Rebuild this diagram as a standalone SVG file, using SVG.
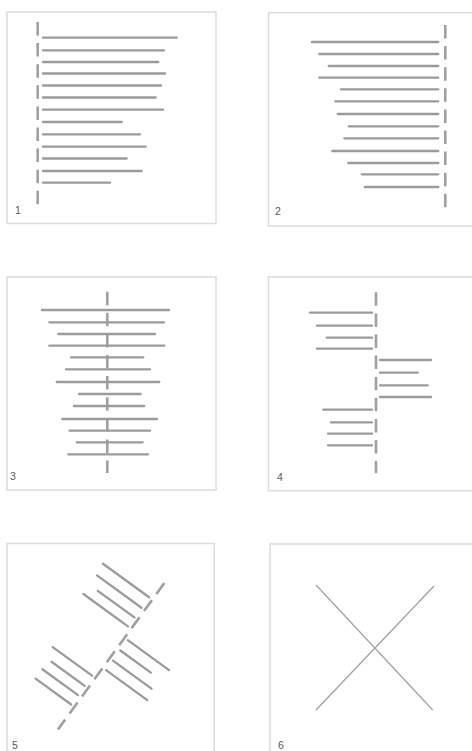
<svg xmlns="http://www.w3.org/2000/svg" width="472" height="751" viewBox="0 0 472 751">
<style>
.frame{fill:#fff;stroke:#dcdcdc;stroke-width:1.5}
.bar{stroke:#9b9b9b;stroke-width:2.3;stroke-linecap:round;fill:none}
.axis{stroke:#a0a0a0;stroke-width:2.6;stroke-dasharray:13.5 7.6;fill:none}
.thin{stroke:#a3a3a3;stroke-width:1.3;fill:none}
.lbl{font-family:"Liberation Sans",Arial,sans-serif;font-size:10.5px;fill:#5a5a5a}
</style>
<rect width="472" height="751" fill="#fff"/>
<g id="panel1">
<rect class="frame" x="7" y="12" width="209" height="211.5"/>
<line class="axis" x1="37.7" y1="22" x2="37.7" y2="205"/>
<g class="bar">
<line x1="43" y1="37.7" x2="176.7" y2="37.7"/>
<line x1="43" y1="50.3" x2="164" y2="50.3"/>
<line x1="43" y1="62" x2="158.3" y2="62"/>
<line x1="43" y1="73.5" x2="165" y2="73.5"/>
<line x1="43" y1="85.5" x2="161" y2="85.5"/>
<line x1="43" y1="97.5" x2="155.7" y2="97.5"/>
<line x1="43" y1="109.7" x2="163" y2="109.7"/>
<line x1="43" y1="122" x2="121.7" y2="122"/>
<line x1="43" y1="134.3" x2="140" y2="134.3"/>
<line x1="43" y1="146.7" x2="145.7" y2="146.7"/>
<line x1="43" y1="158.5" x2="126.7" y2="158.5"/>
<line x1="43" y1="171" x2="141.7" y2="171"/>
<line x1="43" y1="182.7" x2="110" y2="182.7"/>
</g>
<text class="lbl" x="15" y="214">1</text>
</g>
<g id="panel2">
<rect class="frame" x="268.5" y="12.7" width="212" height="213.3"/>
<line class="axis" x1="445.3" y1="25" x2="445.3" y2="209"/>
<g class="bar">
<line x1="312" y1="42" x2="438.3" y2="42"/>
<line x1="319.3" y1="54" x2="438.3" y2="54"/>
<line x1="328.7" y1="66" x2="438.3" y2="66"/>
<line x1="319.3" y1="77.7" x2="438.3" y2="77.7"/>
<line x1="341" y1="89.3" x2="438.3" y2="89.3"/>
<line x1="335.3" y1="101.3" x2="438.3" y2="101.3"/>
<line x1="337.7" y1="114" x2="438.3" y2="114"/>
<line x1="348.7" y1="126.3" x2="438.3" y2="126.3"/>
<line x1="344.3" y1="138.3" x2="438.3" y2="138.3"/>
<line x1="332.3" y1="151" x2="438.3" y2="151"/>
<line x1="348.3" y1="163" x2="438.3" y2="163"/>
<line x1="361.7" y1="174.3" x2="438.3" y2="174.3"/>
<line x1="364.7" y1="187" x2="438.3" y2="187"/>
</g>
<text class="lbl" x="275" y="215">2</text>
</g>
<g id="panel3">
<rect class="frame" x="7" y="277" width="209" height="213"/>
<line class="axis" x1="107.3" y1="291.7" x2="107.3" y2="473"/>
<g class="bar">
<line x1="42" y1="310" x2="169" y2="310"/>
<line x1="49.3" y1="322.3" x2="164" y2="322.3"/>
<line x1="58.3" y1="334" x2="155" y2="334"/>
<line x1="49.3" y1="345.7" x2="164.3" y2="345.7"/>
<line x1="71" y1="357.3" x2="143.3" y2="357.3"/>
<line x1="66" y1="369.3" x2="150" y2="369.3"/>
<line x1="56.7" y1="382" x2="159.3" y2="382"/>
<line x1="79" y1="394" x2="140.7" y2="394"/>
<line x1="74" y1="406" x2="144.3" y2="406"/>
<line x1="62.3" y1="419" x2="157" y2="419"/>
<line x1="69.7" y1="430.7" x2="150" y2="430.7"/>
<line x1="76.7" y1="442.3" x2="142.7" y2="442.3"/>
<line x1="68.3" y1="454.3" x2="148" y2="454.3"/>
</g>
<text class="lbl" x="10" y="480">3</text>
</g>
<g id="panel4">
<rect class="frame" x="268.5" y="277" width="212" height="213.7"/>
<line class="axis" x1="376" y1="292.3" x2="376" y2="473.3"/>
<g class="bar">
<line x1="310" y1="312.7" x2="372" y2="312.7"/>
<line x1="317" y1="325.7" x2="372" y2="325.7"/>
<line x1="326.7" y1="337.7" x2="372" y2="337.7"/>
<line x1="317" y1="348.7" x2="372" y2="348.7"/>
<line x1="380" y1="360" x2="431" y2="360"/>
<line x1="380" y1="372.7" x2="417.7" y2="372.7"/>
<line x1="380" y1="385.3" x2="427.7" y2="385.3"/>
<line x1="380" y1="397" x2="431" y2="397"/>
<line x1="323.3" y1="409.7" x2="372" y2="409.7"/>
<line x1="331" y1="422.3" x2="372" y2="422.3"/>
<line x1="328" y1="433.7" x2="372" y2="433.7"/>
<line x1="328" y1="445.3" x2="372" y2="445.3"/>
</g>
<text class="lbl" x="277" y="481">4</text>
</g>
<g id="panel5">
<rect class="frame" x="7" y="543.5" width="207.3" height="215"/>
<g transform="translate(111.2,656.2) rotate(36) translate(-376,-382.7)">
<line class="axis" x1="376" y1="292.3" x2="376" y2="473.3"/>
<g class="bar">
<line x1="315" y1="312.7" x2="372" y2="312.7"/>
<line x1="317" y1="325.7" x2="372" y2="325.7"/>
<line x1="326.7" y1="337.7" x2="372" y2="337.7"/>
<line x1="317" y1="348.7" x2="372" y2="348.7"/>
<line x1="380" y1="360" x2="431" y2="360"/>
<line x1="380" y1="372.7" x2="417.7" y2="372.7"/>
<line x1="380" y1="385.3" x2="427.7" y2="385.3"/>
<line x1="380" y1="397" x2="431" y2="397"/>
<line x1="323.3" y1="409.7" x2="372" y2="409.7"/>
<line x1="331" y1="422.3" x2="372" y2="422.3"/>
<line x1="328" y1="433.7" x2="372" y2="433.7"/>
<line x1="328" y1="445.3" x2="372" y2="445.3"/>
</g>
</g>
<text class="lbl" x="12" y="749">5</text>
</g>
<g id="panel6">
<rect class="frame" x="270" y="544" width="212" height="215"/>
<line class="thin" x1="316" y1="585" x2="432.7" y2="710"/>
<line class="thin" x1="434" y1="586" x2="316" y2="710"/>
<text class="lbl" x="278" y="749">6</text>
</g>
</svg>
